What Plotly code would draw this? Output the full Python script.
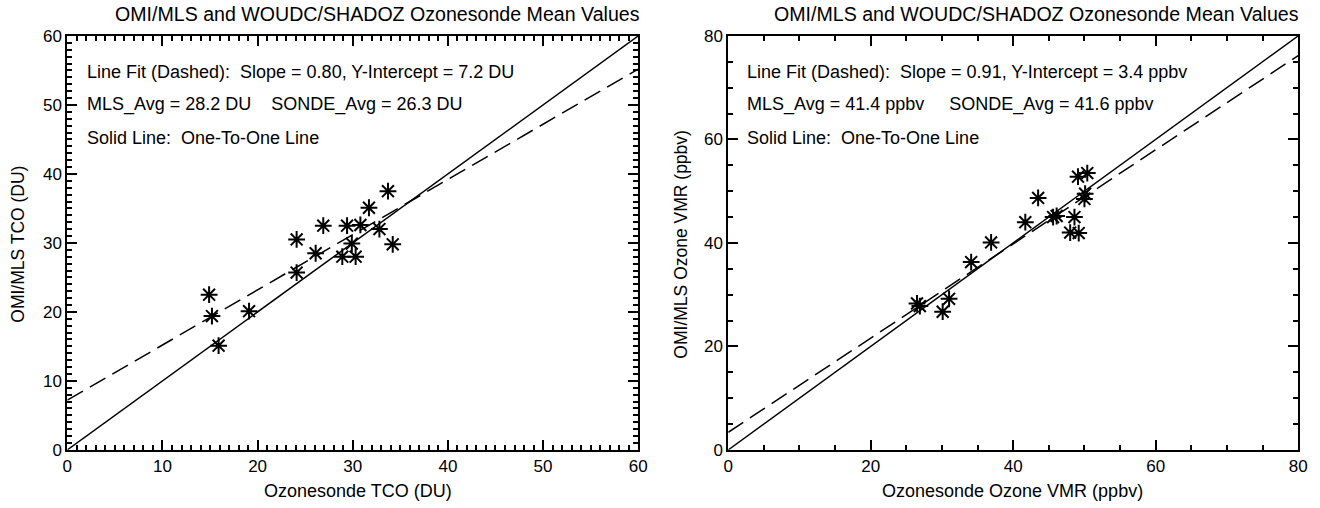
import plotly.graph_objects as go

# ---- data ----
tco_sonde = [14.9, 15.2, 15.9, 19.1, 24.1, 24.1, 26.1, 26.9, 28.9, 29.4, 29.9, 30.3, 30.8, 31.7, 32.8, 33.7, 34.2]
tco_mls   = [22.5, 19.4, 15.1, 20.1, 30.5, 25.7, 28.5, 32.5, 28.0, 32.5, 29.9, 28.0, 32.6, 35.1, 32.0, 37.5, 29.8]
tco_slope, tco_intercept = 0.80, 7.2
tco_range = [0, 60]

vmr_sonde = [26.5, 26.9, 30.1, 31.0, 34.1, 36.9, 41.7, 43.5, 45.6, 46.1, 48.0, 48.6, 49.2, 49.1, 50.4, 50.1, 50.0]
vmr_mls   = [28.3, 27.8, 26.7, 29.2, 36.3, 40.1, 44.0, 48.7, 45.0, 45.2, 42.0, 45.0, 41.9, 52.8, 53.5, 49.5, 48.5]
vmr_slope, vmr_intercept = 0.91, 3.4
vmr_range = [0, 80]

title_text = "OMI/MLS and WOUDC/SHADOZ Ozonesonde Mean Values"
left_lines = ["Line Fit (Dashed):  Slope = 0.80, Y-Intercept = 7.2 DU",
              "MLS_Avg = 28.2 DU    SONDE_Avg = 26.3 DU",
              "Solid Line:  One-To-One Line"]
right_lines = ["Line Fit (Dashed):  Slope = 0.91, Y-Intercept = 3.4 ppbv",
               "MLS_Avg = 41.4 ppbv     SONDE_Avg = 41.6 ppbv",
               "Solid Line:  One-To-One Line"]
x_titles = ["Ozonesonde TCO (DU)", "Ozonesonde Ozone VMR (ppbv)"]
y_titles = ["OMI/MLS TCO (DU)", "OMI/MLS Ozone VMR (ppbv)"]

W, H = 1320, 508
FONT = "Liberation Sans, Arial, Helvetica, sans-serif"

def px(x):
    return x / W

def py(y):
    return 1 - y / H

fig = go.Figure()

def add_panel(xs, ys, slope, intercept, rng, xa, ya):
    fig.add_trace(go.Scatter(x=rng, y=rng, mode="lines", xaxis=xa, yaxis=ya,
                             line=dict(color="black", width=1.5), showlegend=False, hoverinfo="skip"))
    fig.add_trace(go.Scatter(x=rng, y=[slope * v + intercept for v in rng], mode="lines",
                             xaxis=xa, yaxis=ya,
                             line=dict(color="black", width=1.5, dash="18px,8px"),
                             showlegend=False, hoverinfo="skip"))
    fig.add_trace(go.Scatter(x=xs, y=ys, mode="markers", xaxis=xa, yaxis=ya,
                             marker=dict(symbol="asterisk-open", size=14, color="black",
                                         line=dict(color="black", width=2)),
                             showlegend=False))

add_panel(tco_sonde, tco_mls, tco_slope, tco_intercept, tco_range, "x", "y")
add_panel(vmr_sonde, vmr_mls, vmr_slope, vmr_intercept, vmr_range, "x2", "y2")

ydom = [py(458), py(28)]
xdoms = [[px(63), px(640)], [px(731), px(1307)]]

def axis(dom, rng, dtick, mdtick, anchor):
    return dict(domain=dom, range=rng, anchor=anchor, dtick=dtick, tick0=0,
                ticks="inside", ticklen=10, tickwidth=2, tickcolor="black",
                minor=dict(ticks="inside", dtick=mdtick, tick0=0, ticklen=5, tickwidth=2,
                           tickcolor="black", showgrid=False),
                showline=True, linecolor="black", linewidth=2, mirror="ticks",
                showgrid=False, zeroline=False,
                tickfont=dict(family=FONT, size=17, color="black"))

fig.update_layout(
    width=W, height=H, autosize=False,
    margin=dict(l=0, r=0, t=0, b=0),
    paper_bgcolor="white", plot_bgcolor="white",
    xaxis=axis(xdoms[0], tco_range, 10, 1, "y"),
    yaxis=axis(ydom, tco_range, 10, 1, "x"),
    xaxis2=axis(xdoms[1], vmr_range, 20, 5, "y2"),
    yaxis2=axis(ydom, vmr_range, 20, 5, "x2"),
)

ann = []
for cx in (376, 1043):
    ann.append(dict(text=title_text, x=px(cx), y=py(5), xref="paper", yref="paper",
                    xanchor="center", yanchor="middle", showarrow=False,
                    font=dict(family=FONT, size=19.6, color="black")))
for x0, lines in ((81, left_lines), (748, right_lines)):
    for yc, t in zip((65, 99, 134), lines):
        ann.append(dict(text=t, x=px(x0), y=py(yc), xref="paper", yref="paper",
                        xanchor="left", yanchor="middle", showarrow=False,
                        font=dict(family=FONT, size=18, color="black")))
for cx, t in zip((357, 1018), x_titles):
    ann.append(dict(text=t, x=px(cx), y=py(501), xref="paper", yref="paper",
                    xanchor="center", yanchor="middle", showarrow=False,
                    font=dict(family=FONT, size=18, color="black")))
for cx, t in zip((13, 683), y_titles):
    ann.append(dict(text=t, x=px(cx), y=py(244), xref="paper", yref="paper",
                    xanchor="center", yanchor="middle", showarrow=False, textangle=-90,
                    font=dict(family=FONT, size=17.5, color="black")))
fig.update_layout(annotations=ann)

fig.write_html("out.html")
